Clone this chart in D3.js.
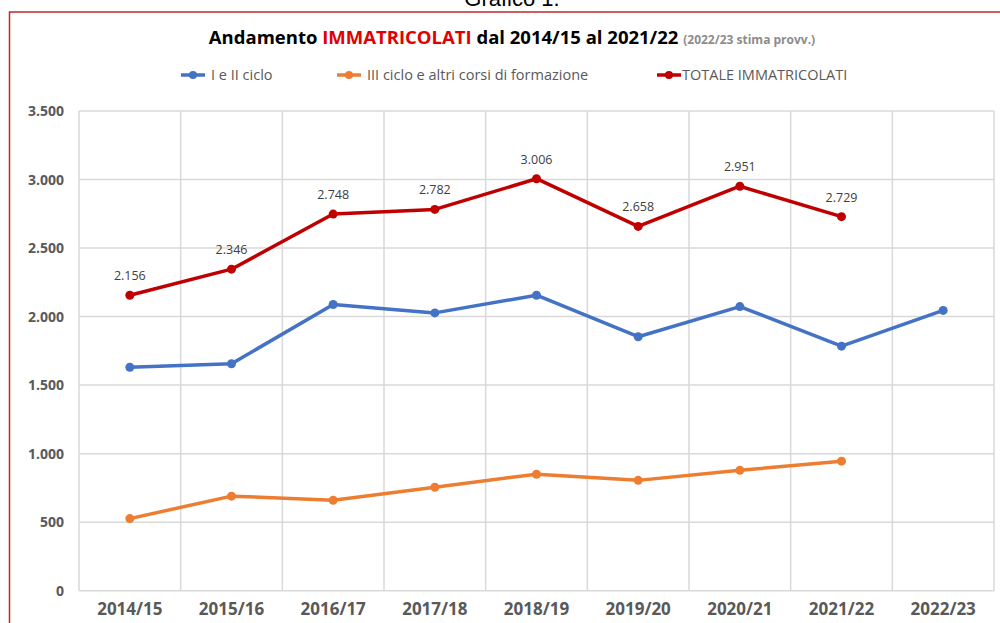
<!DOCTYPE html>
<html>
<head>
<meta charset="utf-8">
<script src="https://cdn.jsdelivr.net/npm/d3@7"></script>
<style>
  body { margin: 0; background: #fff; }
  text { font-family: "Open Sans", "Liberation Sans", sans-serif; }
</style>
</head>
<body>
<script>
// data
var years = ["2014/15", "2015/16", "2016/17", "2017/18", "2018/19", "2019/20", "2020/21", "2021/22", "2022/23"];
var cicloI_II = [1630, 1656, 2088, 2027, 2156, 1853, 2073, 1784, 2045];
var cicloIII = [526, 690, 660, 755, 850, 805, 878, 945, null];
var totale = [2156, 2346, 2748, 2782, 3006, 2658, 2951, 2729, null];
var yTicks = [0, 500, 1000, 1500, 2000, 2500, 3000, 3500];

var series = [
    { name: "I e II ciclo", values: cicloI_II, color: "#4472C4" },
    { name: "III ciclo e altri corsi di formazione", values: cicloIII, color: "#ED7D31" },
    { name: "TOTALE IMMATRICOLATI", values: totale, color: "#C00000" }
];

var W = 1000, H = 623;
var svg = d3.select("body").append("svg")
    .attr("width", W)
    .attr("height", H);

// caption above the frame (cut off)
svg.append("text")
    .attr("x", 512)
    .attr("y", 6)
    .attr("text-anchor", "middle")
    .style("font-family", "Liberation Sans, Arial, sans-serif")
    .style("font-size", "22px")
    .attr("fill", "#000")
    .text("Grafico 1.");

// red frame
svg.append("rect")
    .attr("x", 9.5)
    .attr("y", 12)
    .attr("width", 1000)
    .attr("height", 700)
    .attr("fill", "none")
    .attr("stroke", "#C0272D")
    .attr("stroke-width", 1.5);

// title
var title = svg.append("text")
    .attr("x", 512)
    .attr("y", 44)
    .attr("text-anchor", "middle")
    .style("font-size", "18.5px")
    .style("font-weight", "bold");
title.append("tspan").attr("fill", "#000").text("Andamento ");
title.append("tspan").attr("fill", "#E00000").text("IMMATRICOLATI");
title.append("tspan").attr("fill", "#000").text(" dal 2014/15 al 2021/22 ");
title.append("tspan").attr("fill", "#8c8c8c").style("font-size", "12px").text("(2022/23 stima provv.)");

// legend
var legX = [181, 337, 657];
series.forEach(function (s, i) {
    var g = svg.append("g").attr("transform", "translate(" + legX[i] + ",75)");
    g.append("line")
        .attr("x1", 0).attr("x2", 24)
        .attr("y1", 0).attr("y2", 0)
        .attr("stroke", s.color)
        .attr("stroke-width", 3.5);
    g.append("circle")
        .attr("cx", 12).attr("cy", 0).attr("r", 4)
        .attr("fill", s.color);
    g.append("text")
        .attr("x", i == 2 ? 25 : 30)
        .attr("y", 5)
        .style("font-size", "14.5px")
        .attr("fill", "#595959")
        .text(s.name);
});

var pLeft = 79, pRight = 994, pTop = 111, pBottom = 590.7;

var x = d3.scaleBand()
    .domain(years)
    .range([pLeft, pRight]);
var y = d3.scaleLinear()
    .domain([0, 3500])
    .range([pBottom, pTop]);

var fmt = function (v) { return d3.format(",")(v).replace(/,/g, "."); };

// horizontal grid
svg.append("g")
    .selectAll("line")
    .data(yTicks)
    .enter().append("line")
    .attr("x1", pLeft).attr("x2", pRight)
    .attr("y1", function (d) { return y(d); })
    .attr("y2", function (d) { return y(d); })
    .attr("stroke", "#d9d9d9")
    .attr("stroke-width", 1.5);

// vertical grid
var xEdges = years.map(function (d) { return x(d); }).concat([pRight]);
svg.append("g")
    .selectAll("line")
    .data(xEdges)
    .enter().append("line")
    .attr("x1", function (d) { return d; })
    .attr("x2", function (d) { return d; })
    .attr("y1", pTop).attr("y2", pBottom)
    .attr("stroke", "#d9d9d9")
    .attr("stroke-width", 1.5);

// y axis labels
var yAxis = d3.axisLeft(y).tickValues(yTicks).tickFormat(fmt).tickSize(0).tickPadding(15);
var yg = svg.append("g").attr("transform", "translate(" + pLeft + ",0)").call(yAxis);
yg.select(".domain").remove();
yg.selectAll("text")
    .style("font-family", "Open Sans, sans-serif")
    .style("font-size", "14px")
    .style("font-weight", "bold")
    .attr("fill", "#595959");

// x axis labels
var xAxis = d3.axisBottom(x).tickSize(0).tickPadding(12);
var xg = svg.append("g").attr("transform", "translate(0," + pBottom + ")").call(xAxis);
xg.select(".domain").remove();
xg.selectAll("text")
    .style("font-family", "Open Sans, sans-serif")
    .style("font-size", "17px")
    .style("font-weight", "bold")
    .attr("fill", "#595959");

// lines and points
var line = d3.line()
    .defined(function (d) { return d.v != null; })
    .x(function (d) { return x(d.year) + x.bandwidth() / 2; })
    .y(function (d) { return y(d.v); });

series.forEach(function (s) {
    var pts = years.map(function (yr, i) { return { year: yr, v: s.values[i] }; });
    svg.append("path")
        .datum(pts)
        .attr("d", line)
        .attr("fill", "none")
        .attr("stroke", s.color)
        .attr("stroke-width", 3.5)
        .attr("stroke-linejoin", "round");
    svg.append("g")
        .selectAll("circle")
        .data(pts.filter(function (d) { return d.v != null; }))
        .enter().append("circle")
        .attr("cx", function (d) { return x(d.year) + x.bandwidth() / 2; })
        .attr("cy", function (d) { return y(d.v); })
        .attr("r", 4.5)
        .attr("fill", s.color);
});

// data labels on the total
svg.append("g")
    .selectAll("text")
    .data(years.map(function (yr, i) { return { year: yr, v: totale[i] }; })
        .filter(function (d) { return d.v != null; }))
    .enter().append("text")
    .attr("x", function (d) { return x(d.year) + x.bandwidth() / 2; })
    .attr("y", function (d) { return y(d.v) - 15; })
    .attr("text-anchor", "middle")
    .style("font-size", "12.5px")
    .attr("fill", "#404040")
    .text(function (d) { return fmt(d.v); });
</script>
</body>
</html>
